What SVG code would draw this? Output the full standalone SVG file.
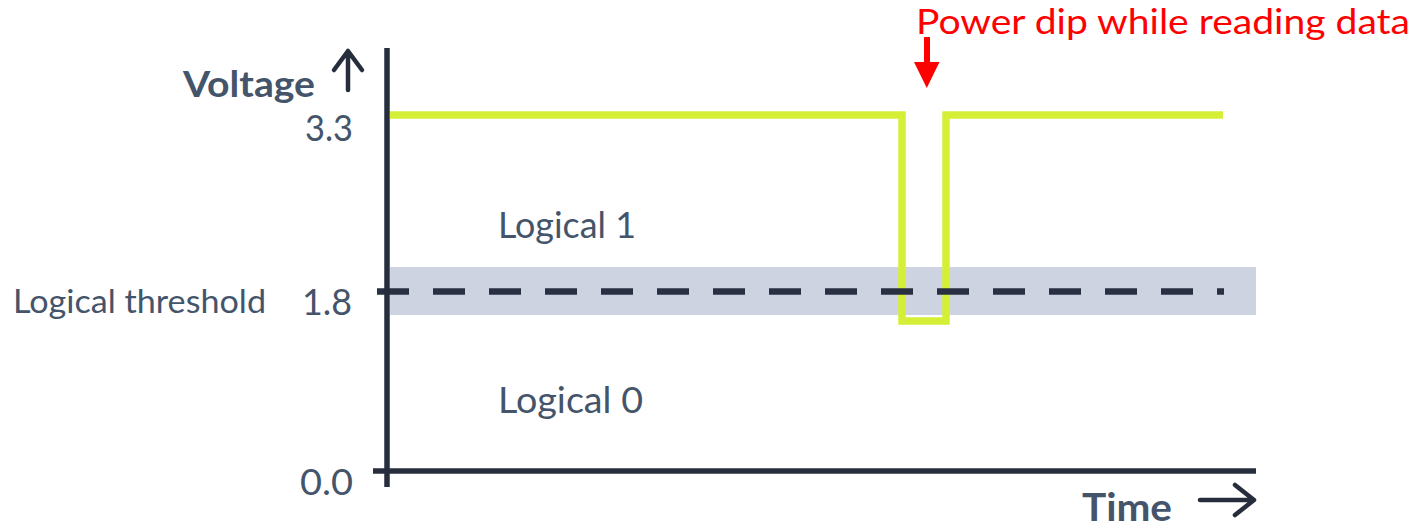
<svg xmlns="http://www.w3.org/2000/svg" width="1423" height="528" viewBox="0 0 1423 528">
  <style>
    .lbl { font-family: Lato, "Open Sans", "Liberation Sans", sans-serif; fill: #44546a; }
    .bold { font-weight: bold; }
    .axis { stroke: #262e3e; stroke-width: 5.5; fill: none; }
    .arr { stroke: #262e3e; stroke-width: 4.5; fill: none; stroke-linecap: round; stroke-linejoin: round; }
  </style>
  <rect width="1423" height="528" fill="#ffffff"/>
  <g id="band">
    <rect x="390" y="267" width="866" height="48" fill="#cdd3e0"/>
  </g>
  <g id="signal">
    <path d="M390,115 H902 V321 H946 V115 H1223" fill="none" stroke="#d4ef35" stroke-width="7.5" stroke-linejoin="miter"/>
  </g>
  <g id="threshold">
    <line x1="377" y1="291.5" x2="1224" y2="291.5" stroke="#283042" stroke-width="6.5" stroke-dasharray="32 24"/>
  </g>
  <g id="connectors">
    <line class="axis" x1="387" y1="48" x2="387" y2="487"/>
    <line class="axis" x1="373" y1="471" x2="1256" y2="471"/>
    <path class="arr" d="M348,90 V51 M334,70 L348,51 L362,70"/>
    <path class="arr" d="M1200,500 H1253 M1235,485 L1254,500 L1235,515"/>
    <path d="M924,37 H930 V62 H939.5 L926.8,88 L914,62 H924 Z" fill="#ff0000"/>
  </g>
  <g id="labels">
    <text class="lbl bold" x="183" y="97" font-size="37" textLength="132" lengthAdjust="spacingAndGlyphs">Voltage</text>
    <text class="lbl" x="305" y="141" font-size="36" textLength="48" lengthAdjust="spacingAndGlyphs">3.3</text>
    <text class="lbl" x="498" y="238" font-size="36" textLength="138" lengthAdjust="spacingAndGlyphs">Logical 1</text>
    <text class="lbl" x="13" y="313" font-size="33" textLength="253" lengthAdjust="spacingAndGlyphs">Logical threshold</text>
    <text class="lbl" x="302" y="315" font-size="36" textLength="50" lengthAdjust="spacingAndGlyphs">1.8</text>
    <text class="lbl" x="498" y="413" font-size="36" textLength="145" lengthAdjust="spacingAndGlyphs">Logical 0</text>
    <text class="lbl" x="300" y="495" font-size="36" textLength="53" lengthAdjust="spacingAndGlyphs">0.0</text>
    <text class="lbl bold" x="1082" y="521" font-size="39" textLength="90" lengthAdjust="spacingAndGlyphs">Time</text>
    <text x="916" y="34" font-size="34" font-family="Lato, 'Open Sans', 'Liberation Sans', sans-serif" fill="#ff0000" textLength="494" lengthAdjust="spacingAndGlyphs">Power dip while reading data</text>
  </g>
</svg>
